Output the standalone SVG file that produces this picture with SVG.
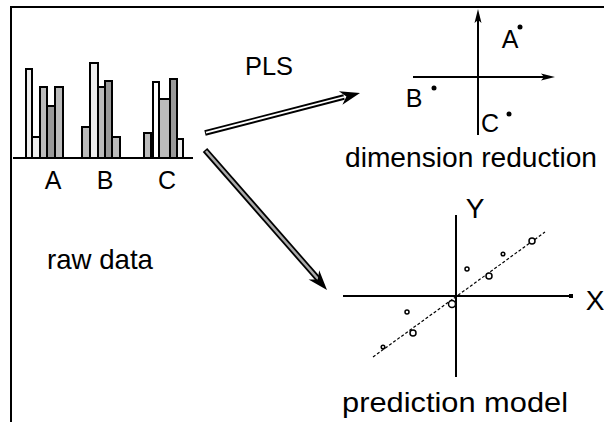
<svg xmlns="http://www.w3.org/2000/svg" width="604" height="422" viewBox="0 0 604 422">
<style>
text{font-family:"Liberation Sans",Arial,sans-serif;fill:#000}
.lbl{font-size:28px}
.sm{font-size:25px}
.bar{stroke:#000;stroke-width:2}
.l1{fill:#eeeeee}.l2{fill:#bbbbbb}.l3{fill:#999999}.l0{fill:#ffffff}
.ax{stroke:#000;stroke-width:2;fill:none}
.dot{fill:#000}
.pt{fill:#fff;stroke:#000;stroke-width:1.5}
</style>
<rect width="604" height="422" fill="#fff"/>
<g id="frame">
<line x1="10" y1="7" x2="604" y2="7" stroke="#000" stroke-width="2"/>
<line x1="11" y1="7" x2="11" y2="422" stroke="#000" stroke-width="2"/>
</g>
<g id="raw-data">
<rect class="bar l1" x="26" y="69" width="6" height="89"/>
<rect class="bar l1" x="32" y="137" width="8" height="21"/>
<rect class="bar l2" x="40" y="87" width="7" height="71"/>
<rect class="bar l3" x="47" y="106" width="8" height="52"/>
<rect class="bar l2" x="55" y="87" width="8" height="71"/>
<rect class="bar l2" x="82" y="127" width="8" height="31"/>
<rect class="bar l1" x="90" y="63" width="8" height="95"/>
<rect class="bar l2" x="98" y="87" width="7" height="71"/>
<rect class="bar l3" x="105" y="81" width="7" height="77"/>
<rect class="bar l2" x="112" y="137" width="8" height="21"/>
<rect class="bar l2" x="144" y="133" width="7" height="25"/>
<rect class="bar l0" x="153" y="82" width="6" height="76"/>
<rect class="bar l2" x="159" y="99" width="11" height="59"/>
<rect class="bar l3" x="170" y="79" width="7" height="79"/>
<rect class="bar l1" x="177" y="139" width="6" height="19"/>
<line x1="13" y1="158" x2="193" y2="158" stroke="#000" stroke-width="2"/>
<text class="sm" x="53" y="189" text-anchor="middle">A</text>
<text class="sm" x="105" y="189" text-anchor="middle">B</text>
<text class="sm" x="167" y="189" text-anchor="middle">C</text>
<text class="lbl" x="47" y="269" textLength="106" lengthAdjust="spacingAndGlyphs">raw data</text>
</g>
<g id="connectors">
<text class="sm" x="245" y="75" textLength="48" lengthAdjust="spacingAndGlyphs">PLS</text>
<line x1="205" y1="133" x2="344" y2="97" stroke="#000" stroke-width="5.5"/>
<line x1="206" y1="132.7" x2="344" y2="97" stroke="#fff" stroke-width="1.8"/>
<polygon points="360,93 342.4,104.8 346.4,96.5 338.9,91.2" fill="#000"/>
<line x1="205" y1="150" x2="319" y2="280" stroke="#000" stroke-width="6"/>
<line x1="206" y1="151" x2="319" y2="280" stroke="#aaa" stroke-width="2.5"/>
<polygon points="327,290 308.6,279.5 317.8,279.4 319.2,270.3" fill="#000"/>
</g>
<g id="dimension-reduction">
<line class="ax" x1="478" y1="135" x2="478" y2="18"/>
<polygon points="478,9 474.5,23 478,20 481.5,23" fill="#000"/>
<line class="ax" x1="413" y1="77" x2="545" y2="77"/>
<polygon points="555,77 541,73.5 544,77 541,80.5" fill="#000"/>
<circle class="dot" cx="520" cy="27" r="2.5"/>
<circle class="dot" cx="434" cy="88" r="2.5"/>
<circle class="dot" cx="509" cy="114" r="2.5"/>
<text class="sm" x="510" y="48" text-anchor="middle">A</text>
<text class="sm" x="414" y="107" text-anchor="middle">B</text>
<text class="sm" x="490" y="132" text-anchor="middle">C</text>
<text class="lbl" x="345" y="167" textLength="252" lengthAdjust="spacingAndGlyphs">dimension reduction</text>
</g>
<g id="prediction-model">
<line class="ax" x1="456" y1="215" x2="456" y2="377"/>
<line class="ax" x1="343" y1="296" x2="571" y2="296"/>
<rect x="569" y="294" width="4" height="4" fill="#000"/>
<line x1="373" y1="357" x2="545" y2="232" stroke="#000" stroke-width="1.2" stroke-dasharray="3 2"/>
<circle class="pt" cx="383" cy="347" r="1.8"/>
<circle class="pt" cx="407" cy="312" r="2"/>
<circle class="pt" cx="413" cy="333" r="3"/>
<circle class="pt" cx="452" cy="304" r="3.5"/>
<circle class="pt" cx="467" cy="269" r="2"/>
<circle class="pt" cx="489" cy="276" r="3"/>
<circle class="pt" cx="503" cy="254" r="1.8"/>
<circle class="pt" cx="532" cy="241" r="3"/>
<text class="lbl" x="595" y="310" text-anchor="middle">X</text>
<text class="lbl" x="475" y="218" text-anchor="middle">Y</text>
<text class="lbl" x="342" y="412" textLength="226" lengthAdjust="spacingAndGlyphs">prediction model</text>
</g>
</svg>
